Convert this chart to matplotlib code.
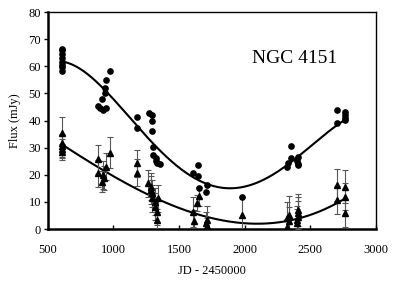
import numpy as np
import matplotlib
matplotlib.use("Agg")
import matplotlib.pyplot as plt

# Upper series (filled circles)
circ_jd = [608, 606, 609, 607, 605, 608, 606, 609,
           883, 896, 919, 942, 909, 934, 942, 972, 938,
           1176, 1183,
           1272, 1290, 1290, 1292, 1303,
           1303, 1321, 1321, 1333, 1354,
           1605, 1645, 1645, 1712, 1705, 1650,
           1979,
           2322, 2330, 2350, 2350,
           2405, 2400, 2410, 2405,
           2703, 2703, 2764, 2764, 2764, 2768]
circ_flux = [66.4, 66.0, 64.6, 63.0, 61.7, 59.9, 58.4, 60.5,
             45.4, 44.6, 43.9, 44.6, 47.9, 51.9, 55.0, 58.3, 50.0,
             37.2, 41.2,
             42.9, 42.0, 40.0, 36.3, 30.4,
             27.3, 26.1, 25.2, 24.2, 24.0,
             20.5, 23.6, 19.5, 16.2, 13.8, 15.0,
             11.9,
             23.0, 24.3, 30.6, 26.0,
             26.5, 25.0, 24.0, 23.6,
             44.0, 39.2, 43.3, 42.0, 40.2, 41.0]

# Lower series (triangles with error bars)
tri_jd = [607, 607, 610, 604, 607,
          883, 881, 919, 925, 942, 912, 972,
          1176, 1183,
          1265, 1283, 1285, 1290, 1295, 1316, 1320, 1328, 1330, 1341,
          1605, 1610, 1640, 1650, 1712, 1705, 1715,
          1979,
          2322, 2322, 2335, 2340, 2405, 2405, 2400, 2410, 2398,
          2703, 2703, 2764, 2764, 2764]
tri_flux = [35.4, 31.7, 30.6, 29.5, 28.5,
            25.7, 20.5, 19.9, 18.7, 23.0, 17.5, 28.2,
            24.3, 20.7,
            16.9, 15.6, 14.4, 13.2, 11.3, 10.0, 8.2, 6.4, 3.3, 11.4,
            6.4, 2.9, 9.5, 12.0, 3.3, 2.2, 1.0,
            5.2,
            4.0, 0.8, 5.0, 3.0, 5.9, 4.5, 2.2, 7.0, 3.5,
            16.2, 10.7, 15.6, 11.9, 5.9]
tri_err = [5.8, 3.5, 4.0, 3.5, 3.0,
           5.3, 5.0, 5.0, 4.5, 5.0, 4.0, 5.6,
           5.0, 5.0,
           5.0, 5.0, 5.0, 5.0, 5.0, 5.0, 5.0, 5.0, 4.0, 5.0,
           5.5, 4.0, 3.0, 3.5, 5.0, 4.0, 3.0,
           6.5,
           6.0, 3.0, 7.0, 5.0, 6.0, 6.0, 5.0, 6.0, 5.0,
           6.0, 5.0, 6.0, 5.0, 5.0]

# Fitted curves (read points along the drawn lines)
up_curve_jd = [615, 957, 1070, 1122, 1277, 1338, 1430, 1582, 1735, 1976, 2116, 2322, 2764]
up_curve_flux = [61.7, 50.2, 44.0, 40.8, 32.8, 30.4, 25.5, 19.5, 16.2, 15.4, 17.5, 23.6, 40.2]
lo_curve_jd = [607, 881, 1275, 1607, 1811, 2040, 2116, 2322, 2573, 2764]
lo_curve_flux = [31.6, 21.8, 13.2, 6.4, 2.7, 1.8, 2.1, 3.1, 6.4, 11.3]

xticks = [500, 1000, 1500, 2000, 2500, 3000]
yticks = [0, 10, 20, 30, 40, 50, 60, 70, 80]

serif = ['Liberation Serif', 'DejaVu Serif']
plt.rcParams['font.family'] = serif

fig = plt.figure(figsize=(3.99, 2.89), dpi=100)
ax = fig.add_axes([0.120, 0.2076, 0.822, 0.7508])

# curves
pu = np.polyfit(up_curve_jd, up_curve_flux, 4)
xu = np.linspace(610, 2770, 300)
ax.plot(xu, np.polyval(pu, xu), color='black', lw=1.5, zorder=3)
pl = np.polyfit(lo_curve_jd, lo_curve_flux, 3)
xl = np.linspace(605, 2770, 300)
ax.plot(xl, np.polyval(pl, xl), color='black', lw=1.5, zorder=3)

ax.errorbar(tri_jd, tri_flux, yerr=tri_err, fmt='^', color='black', ms=3.8,
            ecolor='#555555', elinewidth=0.8, capsize=2, capthick=0.8, zorder=4)
ax.plot(circ_jd, circ_flux, 'o', color='black', ms=3.8, zorder=5)

ax.set_xlim(500, 3000)
ax.set_ylim(0, 80)
ax.set_xticks(xticks)
ax.set_yticks(yticks)
ax.tick_params(axis='x', direction='in', length=3, width=1, labelsize=9, pad=11)
ax.tick_params(axis='y', direction='out', length=3, width=1, labelsize=9, pad=2)
for s in ['left', 'bottom']:
    ax.spines[s].set_linewidth(1.8)
for s in ['top', 'right']:
    ax.spines[s].set_linewidth(1.0)

ax.set_xlabel('JD - 2450000', fontsize=9, labelpad=6)
ax.set_ylabel('Flux (mJy)', fontsize=9, labelpad=5)
ax.text(2383, 62.7, 'NGC 4151', fontsize=14, ha='center', va='center')

fig.savefig('out.png', dpi=100)
